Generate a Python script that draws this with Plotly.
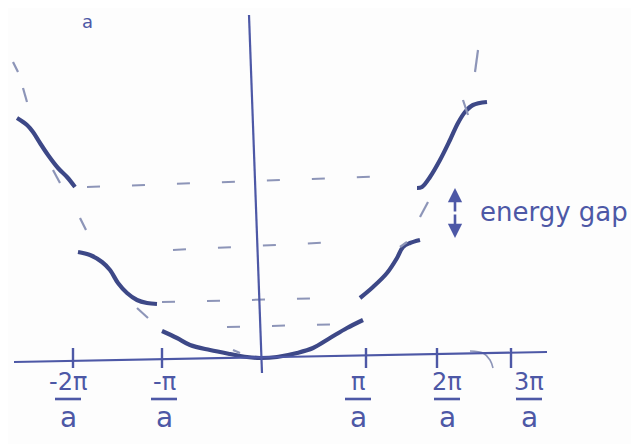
import plotly.graph_objects as go

# ---------------- data (k in units of pi/a as drawn, E in arbitrary units) ----------------
tick_k = [-1.87, -0.98, 1.06, 1.77, 2.51]
tick_num = ["-2π", "-π", "π", "2π", "3π"]
tick_den = ["a", "a", "a", "a", "a"]

band1_k = [-0.98, -0.83, -0.70, -0.50, -0.30, -0.13, 0.0, 0.17, 0.37, 0.53, 0.70, 0.87, 1.03]
band1_E = [0.27, 0.20, 0.13, 0.08, 0.04, 0.01, 0.0, 0.01, 0.05, 0.10, 0.20, 0.30, 0.38]

band2L_k = [-1.82, -1.70, -1.58, -1.50, -1.42, -1.33, -1.23, -1.13, -1.03]
band2L_E = [1.06, 1.03, 0.96, 0.88, 0.75, 0.65, 0.58, 0.55, 0.54]
band2R_k = [1.00, 1.13, 1.27, 1.37, 1.43, 1.50, 1.60]
band2R_E = [0.60, 0.71, 0.85, 1.00, 1.11, 1.15, 1.18]

band3L_k = [-2.43, -2.33, -2.27, -2.20, -2.12, -2.02, -1.93, -1.85]
band3L_E = [2.40, 2.33, 2.26, 2.15, 2.03, 1.90, 1.81, 1.71]
band3R_k = [1.57, 1.62, 1.70, 1.80, 1.90, 1.98, 2.05, 2.13, 2.27]
band3R_E = [1.70, 1.71, 1.81, 1.98, 2.18, 2.35, 2.46, 2.53, 2.56]

# free-electron parabola, drawn as loose dashes (start/end of each dash)
para_k0 = [-2.47, -2.37, -2.07, -1.80, -1.23, -0.27, 2.15, 2.08, 1.60, 1.40]
para_E0 = [2.96, 2.70, 1.88, 1.40, 0.50, 0.08, 2.86, 2.43, 1.41, 1.11]
para_k1 = [-2.42, -2.33, -2.00, -1.74, -1.12, -0.20, 2.18, 2.03, 1.68, 1.47]
para_E1 = [2.86, 2.56, 1.75, 1.28, 0.40, 0.05, 3.08, 2.58, 1.56, 1.16]

# horizontal dashed guide levels (start k, end k, start E, end E)
lvl_k0 = [-1.73, -0.87, -0.98, -0.33]
lvl_k1 = [1.32, 0.77, 0.73, 0.87]
lvl_E0 = [1.71, 1.08, 0.56, 0.31]
lvl_E1 = [1.82, 1.16, 0.60, 0.34]

stray_k = [2.10, 2.23, 2.30, 2.33]
stray_E = [0.07, 0.05, -0.02, -0.10]

gap_k = 1.95
gap_E = [1.70, 1.20]
gap_label = "energy gap"

# ---------------- styling / layout ----------------
INK = "#3d4887"
PEN = "#4d58a6"
DASH = "#8d95b8"
FONT = "DejaVu Sans"

W, H = 639, 444
OFF = 8                       # page body margin offset
WX0, WY0, S = 260, 358, 100.0  # window-pixel origin and px per unit
FX0, FY0 = WX0 - OFF, WY0 - OFF
xr = [(0 - FX0) / S, (W - FX0) / S]
yr = [(FY0 - H) / S, (FY0 - 0) / S]

def ey(py):  # window pixel row -> E units (layout helper)
    return (WY0 - py) / S

fig = go.Figure()

def solid(k, E, w=4.2):
    fig.add_trace(go.Scatter(x=k, y=E, mode="lines", line=dict(color=INK, width=w, shape="spline"),
                             hoverinfo="skip", showlegend=False))

for k, E in [(band1_k, band1_E), (band2L_k, band2L_E), (band2R_k, band2R_E),
             (band3L_k, band3L_E), (band3R_k, band3R_E)]:
    solid(k, E)

# parabola dashes
px, py = [], []
for a, b, c, d in zip(para_k0, para_E0, para_k1, para_E1):
    px += [a, c, None]
    py += [b, d, None]
fig.add_trace(go.Scatter(x=px, y=py, mode="lines", line=dict(color=DASH, width=2.2),
                         hoverinfo="skip", showlegend=False))

# horizontal dashed levels
for a, c, b, d in zip(lvl_k0, lvl_k1, lvl_E0, lvl_E1):
    fig.add_trace(go.Scatter(x=[a, c], y=[b, d], mode="lines",
                             line=dict(color=DASH, width=2, dash="13px,32px"),
                             hoverinfo="skip", showlegend=False))

fig.add_trace(go.Scatter(x=stray_k, y=stray_E, mode="lines", line=dict(color=DASH, width=1.6, shape="spline"),
                         hoverinfo="skip", showlegend=False))

shapes = []
# axes (hand-drawn, slightly tilted)
shapes.append(dict(type="line", xref="x", yref="y", x0=-2.46, y0=-0.04, x1=2.87, y1=0.06,
                   line=dict(color=PEN, width=2.2)))
shapes.append(dict(type="line", xref="x", yref="y", x0=-0.11, y0=3.43, x1=0.02, y1=-0.15,
                   line=dict(color=PEN, width=2.2)))
# tick marks
for t in tick_k:
    shapes.append(dict(type="line", xref="x", yref="y", x0=t, y0=0.10, x1=t, y1=-0.10,
                       line=dict(color=PEN, width=2.4)))

annotations = []
lab_dx = [-0.05, 0.02, -0.08, 0.10, 0.18]   # label offsets from tick (layout)
for t, n, dnm, dx in zip(tick_k, tick_num, tick_den, lab_dx):
    cx = t + dx
    annotations.append(dict(x=cx, y=ey(382), xref="x", yref="y", text=n, showarrow=False,
                            font=dict(family=FONT, size=24, color=PEN), xanchor="center", yanchor="middle"))
    annotations.append(dict(x=cx, y=ey(417), xref="x", yref="y", text=dnm, showarrow=False,
                            font=dict(family=FONT, size=28, color=PEN), xanchor="center", yanchor="middle"))
    shapes.append(dict(type="line", xref="x", yref="y", x0=cx - 0.13, x1=cx + 0.13,
                       y0=ey(399), y1=ey(399), line=dict(color=PEN, width=2.6)))

# energy-gap double arrow
mid = (gap_E[0] + gap_E[1]) / 2
for e in gap_E:
    annotations.append(dict(x=gap_k, y=e, ax=gap_k, ay=mid, xref="x", yref="y", axref="x", ayref="y",
                            text="", showarrow=True, arrowhead=2, arrowsize=1.1, arrowwidth=2.6,
                            arrowcolor=PEN))
annotations.append(dict(x=(554 - WX0) / S, y=ey(212), xref="x", yref="y", text=gap_label, showarrow=False,
                        font=dict(family=FONT, size=26, color=PEN), xanchor="center", yanchor="middle"))

# small letter at the very top edge
annotations.append(dict(x=(87 - WX0) / S, y=ey(21), xref="x", yref="y", text="a", showarrow=False,
                        font=dict(family=FONT, size=18, color=PEN), xanchor="center", yanchor="middle"))

fig.update_layout(
    width=W, height=H, margin=dict(l=0, r=0, t=0, b=0),
    paper_bgcolor="#fdfdfd", plot_bgcolor="#fdfdfd",
    xaxis=dict(range=xr, visible=False, fixedrange=True),
    yaxis=dict(range=yr, visible=False, fixedrange=True),
    shapes=shapes, annotations=annotations, showlegend=False,
)

fig.write_html("out.html")
